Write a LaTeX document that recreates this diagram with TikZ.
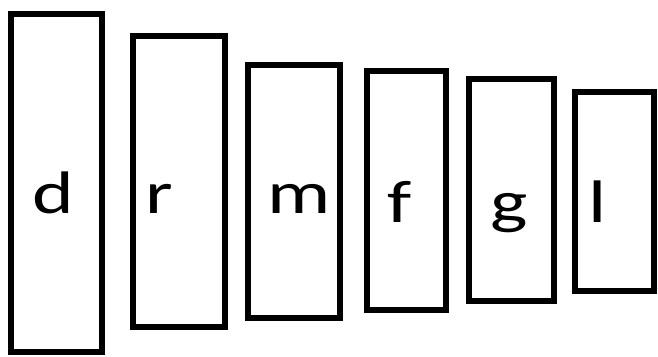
\documentclass[tikz,border=0pt]{standalone}
\usepackage{fontspec}
\setmainfont{Carlito}
% letters are set wide: horizontally stretched glyphs
\newcommand{\wideletter}[1]{\scalebox{1.32}[1]{#1}}
\tikzset{
  bar/.style={draw=black, line width=5.5pt, fill=white},
  letter/.style={anchor=base, inner sep=0pt, font=\fontsize{60}{62}\selectfont}
}
\begin{document}
\begin{tikzpicture}[x=1pt,y=-1pt]
  \useasboundingbox (0,0) rectangle (658,356);
  % six boxes of decreasing height
  \draw[bar] (11,14)  rectangle (102,352);
  \draw[bar] (133,36) rectangle (225,327);
  \draw[bar] (248,65) rectangle (340,318);
  \draw[bar] (367,71) rectangle (446,310);
  \draw[bar] (469,79) rectangle (554,301);
  \draw[bar] (575,92) rectangle (654,291);
  % letters
  \node[letter] (d) at (53.5,213) {\wideletter{d}};
  \node[letter] (r) at (159,213)  {\wideletter{r}};
  \node[letter] (m) at (299.5,213){\wideletter{m}};
  \node[letter] (f) at (400,222)  {\wideletter{f}};
  \node[letter] (g) at (509,222)  {\wideletter{g}};
  \node[letter] (l) at (598,222)  {\wideletter{l}};
\end{tikzpicture}
\end{document}
